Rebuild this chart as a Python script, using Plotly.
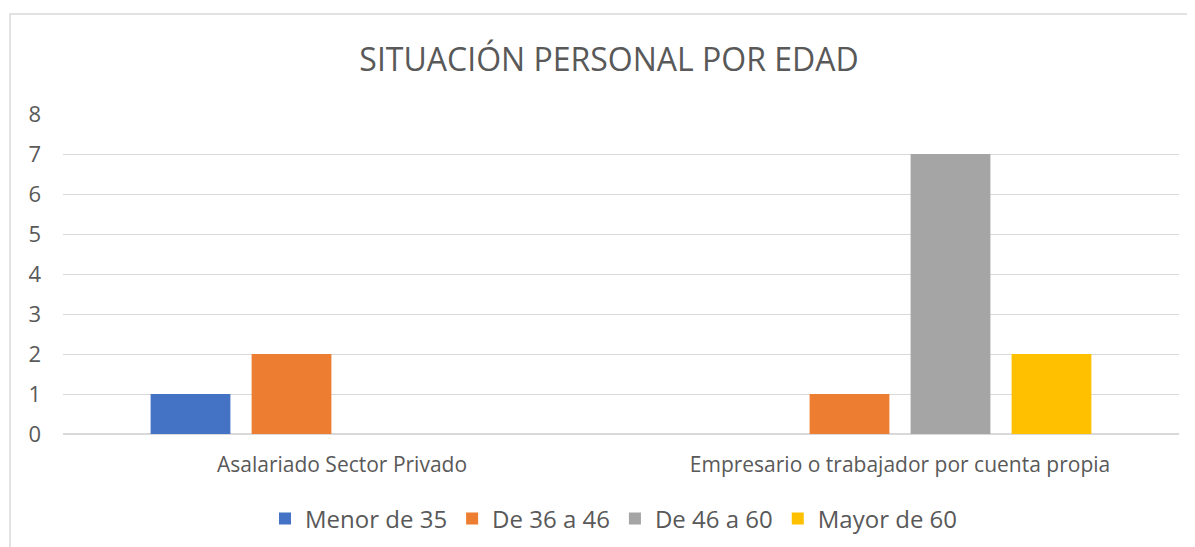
import plotly.graph_objects as go

categories = ["Asalariado Sector Privado", "Empresario o trabajador por cuenta propia"]
series_names = ["Menor de 35", "De 36 a 46", "De 46 a 60", "Mayor de 60"]
menor_35 = [1, 0]
de_36_46 = [2, 1]
de_46_60 = [0, 7]
mayor_60 = [0, 2]
y_ticks = [0, 1, 2, 3, 4, 5, 6, 7, 8]

colors = ["#4472C4", "#ED7D31", "#A5A5A5", "#FFC000"]
values = [menor_35, de_36_46, de_46_60, mayor_60]

FONT = "Open Sans"
fig = go.Figure()
for name, vals, c in zip(series_names, values, colors):
    fig.add_trace(go.Bar(x=categories, y=vals, name=name, marker_color=c,
                         marker_line_width=0))

W, H = 1187, 539
l, r, t, b = 55, 16, 106, 113
pw, ph = W - l - r, H - t - b

fig.update_layout(
    width=W, height=H,
    margin=dict(l=l, r=r, t=t, b=b, autoexpand=False),
    paper_bgcolor="white", plot_bgcolor="white",
    barmode="group", bargap=0.276, bargroupgap=0.21,
    font=dict(family=FONT, color="#595959"),
    title=dict(text="SITUACIÓN PERSONAL POR EDAD", x=601 / W, xanchor="center",
               y=1 - 52 / H, yanchor="middle",
               font=dict(size=32, color="#595959", family=FONT)),
    showlegend=True,
    legend=dict(orientation="h", x=(606 - l) / pw, xanchor="center", y=-85 / ph,
                yanchor="middle", font=dict(size=24, color="#595959", family=FONT),
                traceorder="normal"),
    yaxis=dict(range=[0, 8], tickvals=y_ticks, showgrid=True, gridcolor="#D9D9D9",
               gridwidth=1, zeroline=True, zerolinecolor="#D9D9D9", showline=False,
               tickfont=dict(size=22, color="#595959", family=FONT),
               ticklabelstandoff=21, fixedrange=True),
    xaxis=dict(showgrid=False, showline=False, ticks="",
               tickfont=dict(size=21, color="#595959", family=FONT),
               ticklabelstandoff=16),
)

fig.add_shape(type="rect", xref="paper", yref="paper",
              x0=(2 - l) / pw, x1=(1200 - l) / pw,
              y0=(H - b - 700) / ph, y1=(H - b - 6) / ph,
              line=dict(color="#D9D9D9", width=1.5), fillcolor="rgba(0,0,0,0)",
              layer="below")

fig.write_html("out.html")
